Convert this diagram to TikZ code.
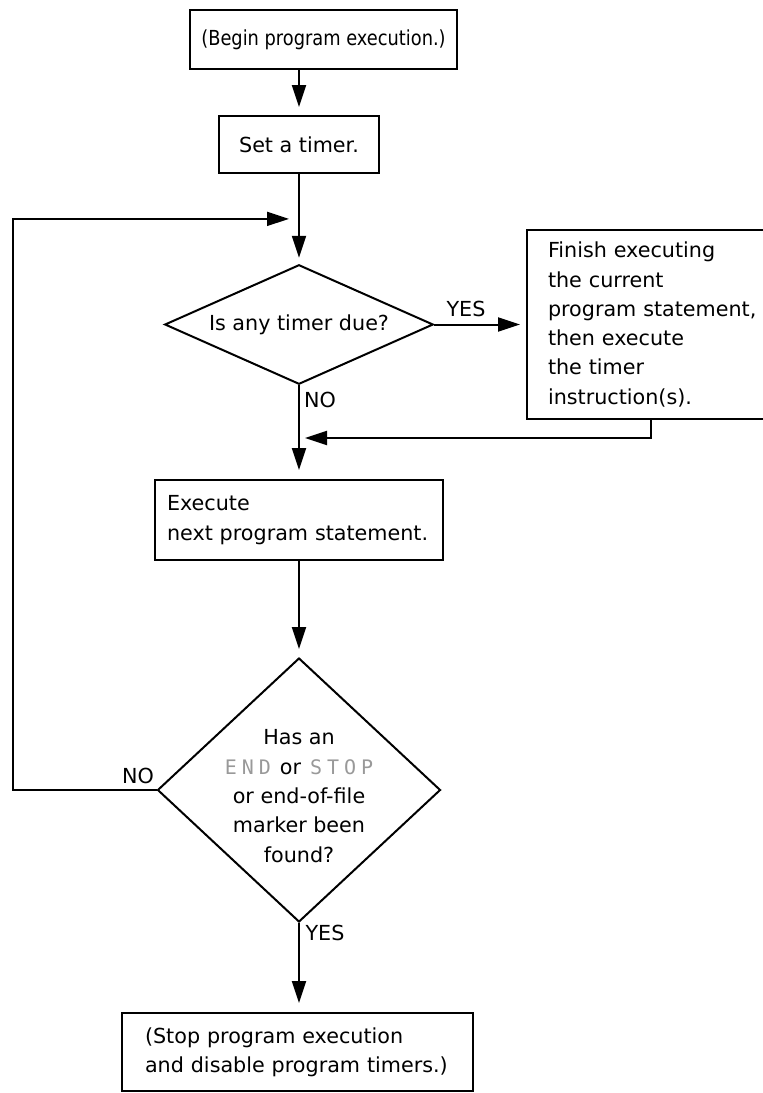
\documentclass[tikz,border=0pt]{standalone}
\usepackage{fontspec}
\usepackage{graphicx}
\setmainfont{DejaVu Sans}
\newfontfamily\dotfont{DejaVu Sans Mono}
\usetikzlibrary{shapes.geometric,arrows.meta,calc}
\definecolor{dotgray}{gray}{0.6}
\newcommand\dmchar[1]{\makebox[17pt]{#1}}
\hfuzz=300pt
\hbadness=10000
\hyphenpenalty=10000
\exhyphenpenalty=10000
\begin{document}
\begin{tikzpicture}[x=1pt,y=-1pt,
  every node/.style={font=\fontsize{20.7}{29.3}\selectfont},
  box/.style={draw, line width=2pt, rectangle, inner sep=0pt},
  dia/.style={draw, line width=2pt, diamond, inner sep=0pt},
  arr/.style={line width=2pt, -{Triangle[length=22pt,width=14pt]}},
  lbl/.style={inner sep=0pt}]
\useasboundingbox (0,0) rectangle (763,1093);

\node[box, minimum width=267pt, minimum height=59pt] (begin) at (323.5,39.5) {\scalebox{0.86}[1]{(Begin program execution.)}};
\node[box, minimum width=160pt, minimum height=57pt] (timer) at (299,144.5) {Set a timer.};
\node[dia, minimum width=268.5pt, minimum height=119.5pt, aspect=2.2] (d1) at (299,324.5) {Is any timer due?};
\node[box, minimum width=238pt, minimum height=189pt, text width=196pt, align=left, inner xsep=21pt, inner ysep=0pt] (finish) at (646,324.5) {Finish executing\\ the current\\ \mbox{program statement,}\\ then execute\\ the timer\\ instruction(s).};
\node[box, minimum width=288pt, minimum height=80pt, text width=264pt, align=left, inner xsep=12pt, inner ysep=0pt] (exec) at (299,520) {Execute\\ \mbox{next program statement.}};
\node[dia, minimum width=283pt, minimum height=264pt] (d2) at (299,790) {};
\node[inner sep=0pt, align=center] (d2t) at (299,796) {Has an\\ {\dotfont\fontsize{20}{20}\selectfont\color{dotgray}\dmchar{E}\dmchar{N}\dmchar{D}} or {\dotfont\fontsize{20}{20}\selectfont\color{dotgray}\dmchar{S}\dmchar{T}\dmchar{O}\dmchar{P}}\\ or end-of-file\\ marker been\\ found?};
\node[box, minimum width=351pt, minimum height=78pt, text width=305pt, align=left, inner xsep=23pt, inner ysep=0pt] (stop) at (297.5,1052) {(Stop program execution\\ \mbox{and disable program timers.)}};

\node[lbl] (yes1) at (466,309) {YES};
\node[lbl] (no1) at (320,399.5) {NO};
\node[lbl] (no2) at (138,776) {NO};
\node[lbl] (yes2) at (325,933) {YES};

\coordinate (edge) at (12.7,0);
\coordinate (lj) at ($(timer.south)!0.5!(d1.north)$);
\coordinate (retx) at (651,438);
\coordinate (rj) at (d1.south |- retx);

\draw[arr, shorten >=8pt] (begin.south -| timer.north) -- (timer.north);
\draw[arr, shorten >=6pt] (timer.south) -- (d1.north);
\draw[arr, shorten >=10pt] (d2.west) -- (d2.west -| edge) |- (lj);
\draw[arr, shorten >=6pt] (d1.east) -- (finish.west);
\draw[arr, shorten >=6pt] (finish.south -| retx) |- (rj);
\draw[arr, shorten >=9pt] (d1.south) -- (exec.north);
\draw[arr, shorten >=8pt] (exec.south) -- (d2.north);
\draw[arr, shorten >=9pt] (d2.south) -- (stop.north -| d2.south);
\end{tikzpicture}
\end{document}
